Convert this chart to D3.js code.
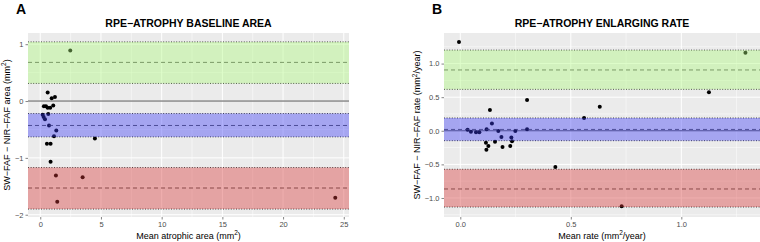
<!DOCTYPE html>
<html><head><meta charset="utf-8">
<script src="https://cdn.jsdelivr.net/npm/d3@7/dist/d3.min.js"></script>
<style>
html,body{margin:0;padding:0;background:#fff;}
svg{display:block;font-family:"Liberation Sans",Arial,Helvetica,sans-serif;}
</style></head>
<body><svg id="c" width="760" height="242"></svg>
<script>
// ---- Panel A data: baseline area ----
const aMean = [0.61,0.94,1.21,0.30,0.47,0.61,0.82,1.07,0.20,0.28,0.39,0.66,0.72,1.32,1.13,4.5,0.55,0.85,0.85,1.29,3.49,1.40,2.47,24.3];
const aDiff = [0.15,0.05,0.07,-0.09,-0.09,-0.12,-0.12,-0.08,-0.24,-0.28,-0.32,-0.23,-0.43,-0.52,-0.62,-0.66,-0.75,-0.75,-1.07,-1.31,-1.34,-1.77,0.89,-1.70];
// [estimate, CI low, CI high]
const aUpper = [0.68, 0.31, 1.04];
const aBias  = [-0.43, -0.63, -0.22];
const aLower = [-1.53, -1.90, -1.17];
const aXTicks = [0,5,10,15,20,25];
const aYTicks = [-2,-1,0,1];

// ---- Panel B data: enlarging rate ----
const bMean = [-0.006,1.29,1.125,0.302,0.631,0.134,0.56,0.73,0.43,0.033,0.048,0.071,0.086,0.119,0.143,0.172,0.186,0.249,0.302,0.231,0.234,0.157,0.116,0.127,0.118,0.191,0.226];
const bDiff = [1.32,1.16,0.573,0.458,0.359,0.31,0.19,-1.124,-0.539,0.016,-0.013,-0.022,-0.022,0.022,0.11,-0.003,-0.092,-0.003,0.022,-0.10,-0.156,-0.162,-0.177,-0.226,-0.281,-0.243,-0.226];
const bUpper = [0.905, 0.617, 1.20];
const bBias  = [0.02, -0.147, 0.19];
const bLower = [-0.866, -1.134, -0.573];
const bXTicks = [0,0.5,1.0];
const bYTicks = [-1.0,-0.5,0.0,0.5,1.0];

const svg = d3.select("#c");

function panel(o){
  const g = svg.append("g");
  const x = d3.scaleLinear().domain(o.xd).range([o.x0,o.x1]);
  const y = d3.scaleLinear().domain(o.yd).range([o.y1,o.y0]);
  g.append("rect").attr("x",o.x0).attr("y",o.y0).attr("width",o.x1-o.x0).attr("height",o.y1-o.y0).attr("fill","#ebebeb");
  // minor grid
  o.xMinor.forEach(v=>g.append("line").attr("x1",x(v)).attr("x2",x(v)).attr("y1",o.y0).attr("y2",o.y1).attr("stroke","#fff").attr("stroke-width",0.5));
  o.yMinor.forEach(v=>g.append("line").attr("y1",y(v)).attr("y2",y(v)).attr("x1",o.x0).attr("x2",o.x1).attr("stroke","#fff").attr("stroke-width",0.5));
  o.xt.forEach(v=>g.append("line").attr("x1",x(v)).attr("x2",x(v)).attr("y1",o.y0).attr("y2",o.y1).attr("stroke","#fff").attr("stroke-width",1));
  o.yt.forEach(v=>g.append("line").attr("y1",y(v)).attr("y2",y(v)).attr("x1",o.x0).attr("x2",o.x1).attr("stroke","#fff").attr("stroke-width",1));
  // zero line
  g.append("line").attr("y1",y(0)).attr("y2",y(0)).attr("x1",o.x0).attr("x2",o.x1).attr("stroke","#555").attr("stroke-width",1);
  // points
  g.selectAll("circle.p").data(o.mx).join("circle").attr("class","p")
    .attr("cx",(d)=>x(d)).attr("cy",(d,i)=>y(o.my[i])).attr("r",2).attr("fill","#000");
  // lines
  [o.up,o.bias,o.low].forEach(b=>{
    g.append("line").attr("y1",y(b[0])).attr("y2",y(b[0])).attr("x1",o.x0).attr("x2",o.x1)
      .attr("stroke","#333").attr("stroke-width",0.8).attr("stroke-dasharray","4,3");
    [b[1],b[2]].forEach(v=>g.append("line").attr("y1",y(v)).attr("y2",y(v)).attr("x1",o.x0).attr("x2",o.x1)
      .attr("stroke","#111").attr("stroke-width",0.8).attr("stroke-dasharray","1,1.6"));
  });
  // bands on top
  const bands = [[o.up,"rgb(172,250,122)"],[o.bias,"rgb(60,60,247)"],[o.low,"rgb(218,55,55)"]];
  bands.forEach(([b,c])=>{
    g.append("rect").attr("x",o.x0).attr("width",o.x1-o.x0).attr("y",y(b[2])).attr("height",y(b[1])-y(b[2]))
      .attr("fill",c).attr("fill-opacity",0.4);
  });
  // axes
  const ax = d3.axisBottom(x).tickValues(o.xt).tickFormat(o.xf).tickSize(2.5).tickPadding(2);
  const gx = g.append("g").attr("transform",`translate(0,${o.y1})`).call(ax);
  const ay = d3.axisLeft(y).tickValues(o.yt).tickFormat(o.yf).tickSize(2.5).tickPadding(2);
  const gy = g.append("g").attr("transform",`translate(${o.x0},0)`).call(ay);
  [gx,gy].forEach(a=>{
    a.select(".domain").remove();
    a.selectAll(".tick line").attr("stroke","#333").attr("stroke-width",0.6);
    a.selectAll(".tick text").attr("fill","#4d4d4d").attr("font-size",7.5).attr("font-family","Liberation Sans,Arial,sans-serif");
  });
  // titles
  g.append("text").attr("x",(o.x0+o.x1)/2).attr("y",26.5).attr("text-anchor","middle")
    .attr("font-size",10.5).attr("font-weight","bold").text(o.title);
  g.append("text").attr("x",o.lx).attr("y",13.5).attr("font-size",14).attr("font-weight","bold").text(o.letter);
  const xt = g.append("text").attr("x",(o.x0+o.x1)/2).attr("y",238.5).attr("text-anchor","middle").attr("font-size",9);
  xt.append("tspan").text(o.xlab[0]);
  xt.append("tspan").attr("dy",-3.5).attr("font-size",6.5).text("2");
  xt.append("tspan").attr("dy",3.5).text(o.xlab[1]);
  const yt = g.append("text").attr("transform",`translate(${o.ytx},${(o.y0+o.y1)/2}) rotate(-90)`).attr("text-anchor","middle").attr("font-size",9);
  yt.append("tspan").text(o.ylab[0]);
  yt.append("tspan").attr("dy",-3.5).attr("font-size",6.5).text("2");
  yt.append("tspan").attr("dy",3.5).text(o.ylab[1]);
}

panel({
  x0:28,x1:349,y0:33,y1:217,
  xd:[-1.01,25.43], yd:[-2.04,1.197],
  xt:aXTicks, yt:aYTicks, xMinor:[2.5,7.5,12.5,17.5,22.5], yMinor:[-1.5,-0.5,0.5],
  xf:d3.format("d"), yf:d=>d<0?"\u2212"+Math.abs(d):String(d),
  mx:aMean,my:aDiff, up:aUpper,bias:aBias,low:aLower,
  title:"RPE\u2212ATROPHY BASELINE AREA", letter:"A", lx:16,
  xlab:["Mean atrophic area (mm",")"], ylab:["SW\u2212FAF \u2212 NIR\u2212FAF area (mm",")"], ytx:9.5
});
panel({
  x0:444,x1:760,y0:33,y1:217,
  xd:[-0.0738,1.356], yd:[-1.283,1.455],
  xt:bXTicks, yt:bYTicks, xMinor:[0.25,0.75,1.25], yMinor:[-1.25,-0.75,-0.25,0.25,0.75,1.25],
  xf:d3.format(".1f"), yf:d=>{const s=d3.format(".1f")(Math.abs(d));return d<0?"\u2212"+s:s;},
  mx:bMean,my:bDiff, up:bUpper,bias:bBias,low:bLower,
  title:"RPE\u2212ATROPHY ENLARGING RATE", letter:"B", lx:432,
  xlab:["Mean rate (mm","/year)"], ylab:["SW\u2212FAF \u2212 NIR\u2212FAF rate (mm","/year)"], ytx:420
});
</script></body></html>
